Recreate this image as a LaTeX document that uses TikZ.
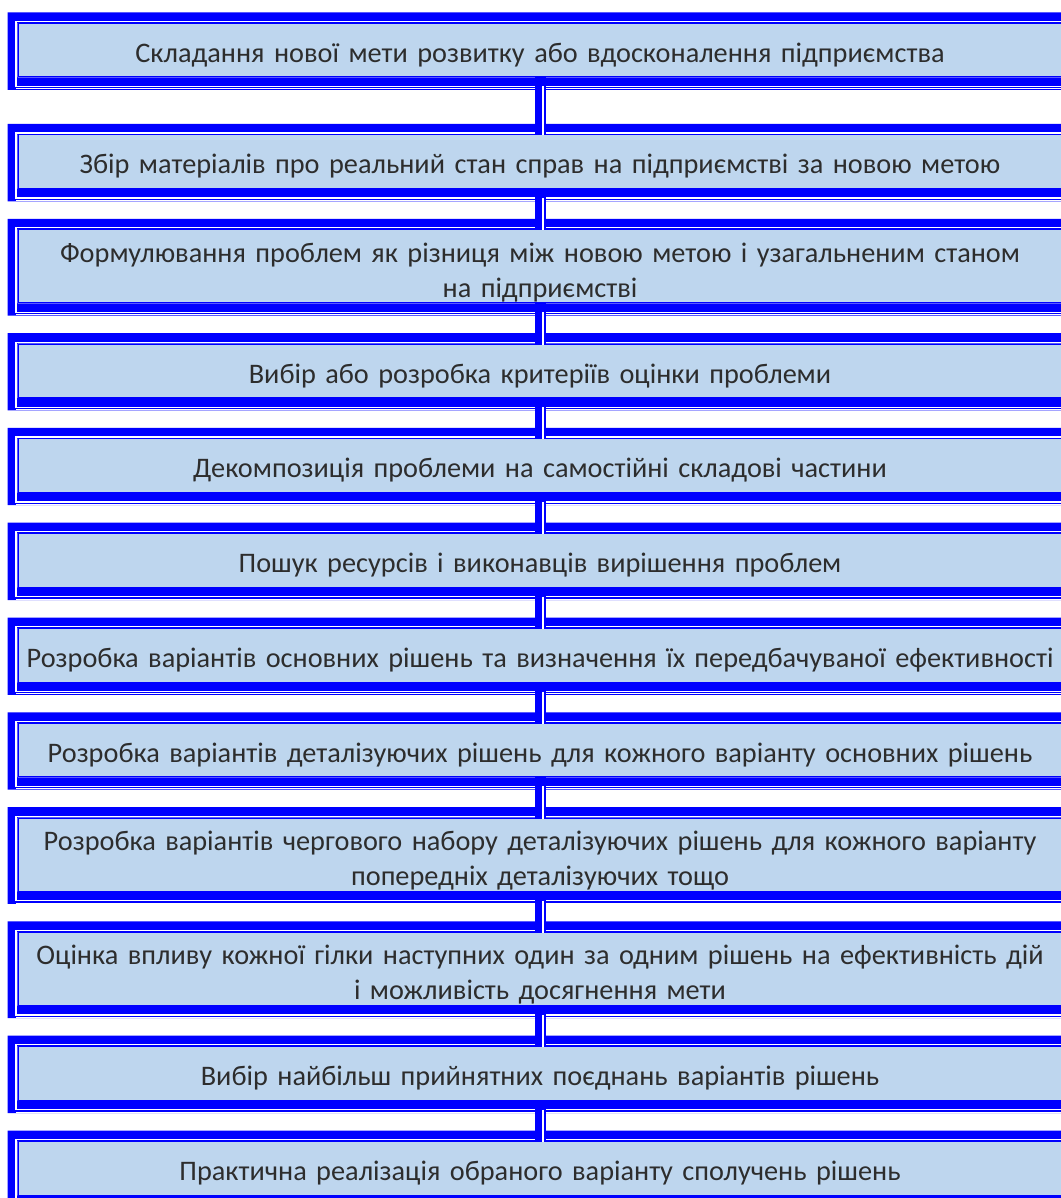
\documentclass[tikz,border=0pt]{standalone}
\usepackage{fontspec}
\setmainfont{Carlito}
\usetikzlibrary{positioning}
\definecolor{boxblue}{RGB}{0,0,255}
\definecolor{boxfill}{RGB}{190,214,238}
\definecolor{textgray}{RGB}{45,45,45}
\tikzset{
  stepbox/.style={rectangle, draw=boxblue, line width=1pt, fill=boxfill, text=textgray,
    font=\fontsize{28.3pt}{35pt}\selectfont, text width=1044pt, align=center,
    minimum height=53.5pt, inner xsep=0pt, inner ysep=0pt, text height=29pt},
  twoline/.style={minimum height=73pt, text depth=37pt},
  link/.style={boxblue, line width=11pt,
    postaction={draw=white, line width=1.2pt, shorten <=9pt, shorten >=-1pt, transform canvas={xshift=3pt}}}
}

\begin{document}
\begin{tikzpicture}[node distance=40.3pt]
    \useasboundingbox (0,0) rectangle (1060pt,-1198pt);

    \node[stepbox, anchor=north west] (s1) at (17.5pt,-23pt) {Складання нової мети розвитку або вдосконалення підприємства};
    \node[stepbox] (s2) [below=57pt of s1] {Збір матеріалів про реальний стан справ на підприємстві за новою метою};
    \node[stepbox, twoline] (s3) [below=of s2] {Формулювання проблем як різниця між новою метою і узагальненим станом\\ на підприємстві};
    \node[stepbox] (s4) [below=of s3] {Вибір або розробка критеріїв оцінки проблеми};
    \node[stepbox] (s5) [below=of s4] {Декомпозиція проблеми на самостійні складові частини};
    \node[stepbox] (s6) [below=of s5] {Пошук ресурсів і виконавців вирішення проблем};
    \node[stepbox] (s7) [below=of s6] {Розробка варіантів основних рішень та визначення їх передбачуваної ефективності};
    \node[stepbox] (s8) [below=of s7] {Розробка варіантів деталізуючих рішень для кожного варіанту основних рішень};
    \node[stepbox, twoline] (s9) [below=of s8] {Розробка варіантів чергового набору деталізуючих рішень для кожного варіанту\\ попередніх деталізуючих тощо};
    \node[stepbox, twoline] (s10) [below=of s9] {Оцінка впливу кожної гілки наступних один за одним рішень на ефективність дій\\ і можливість досягнення мети};
    \node[stepbox] (s11) [below=of s10] {Вибір найбільш прийнятних поєднань варіантів рішень};
    \node[stepbox] (s12) [below=of s11] {Практична реалізація обраного варіанту сполучень рішень};

    \foreach \i in {1,...,12} {
        \fill[boxblue, even odd rule] ([shift={(-10pt,-12.3pt)}]s\i.south west) rectangle ([shift={(12pt,10.5pt)}]s\i.north east)
            (s\i.south west) rectangle (s\i.north east);
        \draw[white, line width=1.2pt] ([shift={(-1.5pt,-9pt)}]s\i.south west) rectangle ([shift={(1.5pt,1.5pt)}]s\i.north east);
        \draw[white, line width=0.8pt] ([shift={(-1.5pt,-11.3pt)}]s\i.south west) -- ([shift={(1.5pt,-11.3pt)}]s\i.south east);
    }

    \draw[link] (s1) -- (s2);
    \draw[link] (s2) -- (s3);
    \draw[link] (s3) -- (s4);
    \draw[link] (s4) -- (s5);
    \draw[link] (s5) -- (s6);
    \draw[link] (s6) -- (s7);
    \draw[link] (s7) -- (s8);
    \draw[link] (s8) -- (s9);
    \draw[link] (s9) -- (s10);
    \draw[link] (s10) -- (s11);
    \draw[link] (s11) -- (s12);
\end{tikzpicture}
\end{document}
